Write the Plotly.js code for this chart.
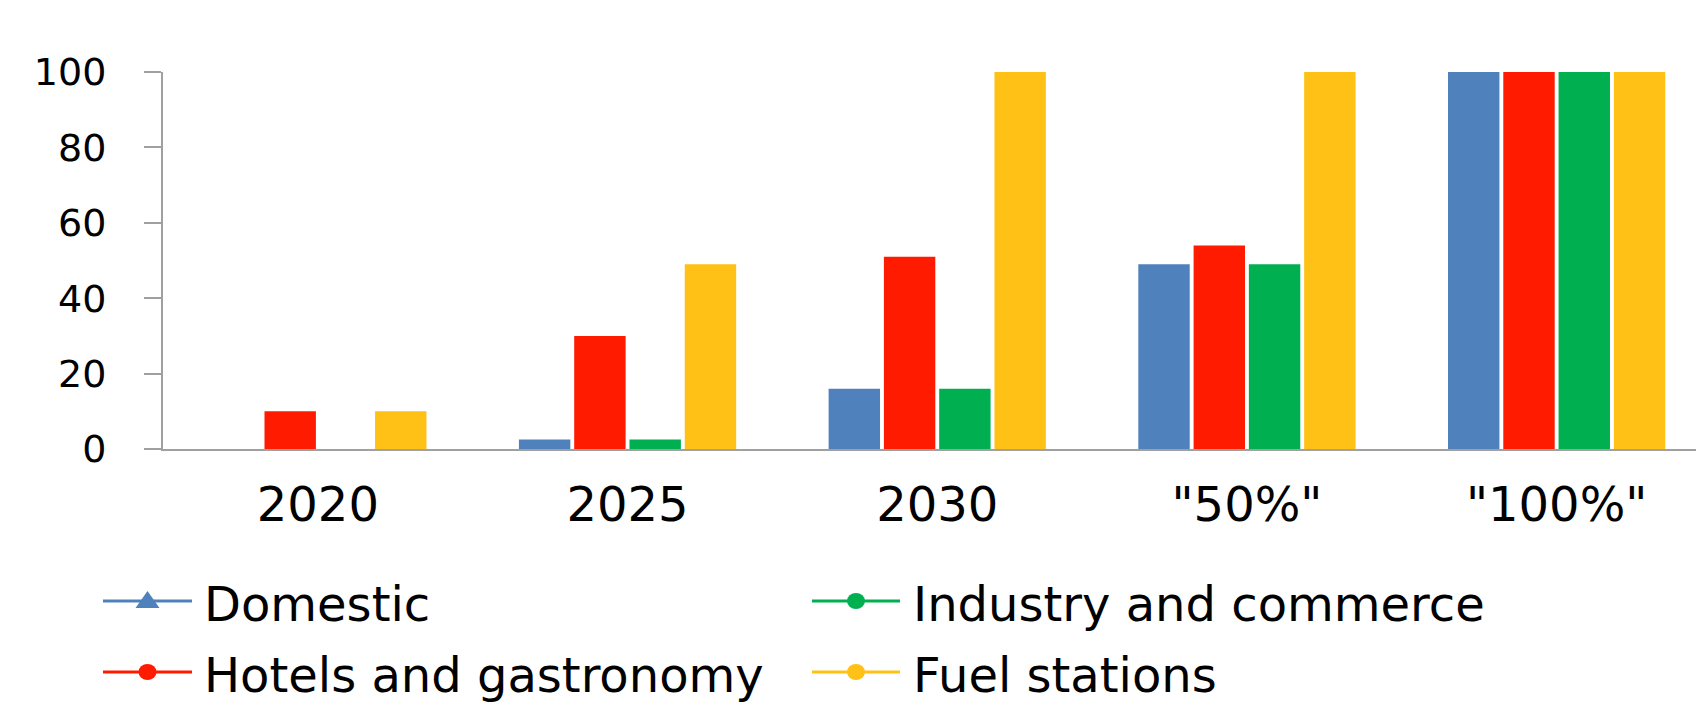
<!DOCTYPE html>
<html>
<head>
<meta charset="utf-8">
<script src="https://cdn.plot.ly/plotly-3.0.1.min.js"></script>
<style>
  html, body { margin: 0; padding: 0; background: #ffffff; }
  #chart { width: 1696px; height: 704px; }
</style>
</head>
<body>
<div id="chart"></div>
<script>
// Categories and series (share of deployment, %)
const categories = ['2020', '2025', '2030', '"50%"', '"100%"'];
const domestic   = [0, 2.5, 16, 49, 100];
const hotels     = [10, 30, 51, 54, 100];
const industry   = [0, 2.5, 16, 49, 100];
const fuel       = [10, 49, 100, 100, 100];
const seriesNames = ['Domestic', 'Hotels and gastronomy', 'Industry and commerce', 'Fuel stations'];
const yTicks = [0, 20, 40, 60, 80, 100];

// Styling
const seriesValues = [domestic, hotels, industry, fuel];
const seriesColors = ['#4F81BD', '#FF1B00', '#00B050', '#FFC116'];
const legendSymbol = ['triangle', 'circle', 'circle', 'circle'];
const axisGray = '#a0a0a0';
const FONT = 'DejaVu Sans';

// Page geometry (pixels)
const PW = 1696, PH = 704;
const M = { l: 163, r: 0, t: 72, b: 255 };
const plotW = PW - M.l - M.r;
const plotH = PH - M.t - M.b;
const px2paperX = x => (x - M.l) / plotW;
const px2paperY = y => (PH - M.b - y) / plotH;

const traces = seriesNames.map((name, i) => ({
  type: 'bar',
  name: name,
  x: categories,
  y: seriesValues[i],
  marker: { color: seriesColors[i], line: { width: 0 } },
  showlegend: false,
  hoverinfo: 'skip'
}));

// Legend laid out in two columns below the axis: line + marker + label
const legendCols = [{ lineX0: 103, lineX1: 192, textX: 202 }, { lineX0: 812, lineX1: 900, textX: 911 }];
const legendRows = [601, 672];
// [column, row] for Domestic, Hotels, Industry, Fuel
const legendSlots = [[0, 0], [0, 1], [1, 0], [1, 1]];
const shapes = [];
const annotations = [];
seriesNames.forEach((name, i) => {
  const [c, r] = legendSlots[i];
  const col = legendCols[c];
  const y = px2paperY(legendRows[r]);
  shapes.push({
    type: 'line', xref: 'paper', yref: 'paper',
    x0: px2paperX(col.lineX0), x1: px2paperX(col.lineX1), y0: y, y1: y,
    line: { color: seriesColors[i], width: 3 }
  });
  const cx = px2paperX((col.lineX0 + col.lineX1) / 2);
  if (legendSymbol[i] === 'triangle') {
    shapes.push({
      type: 'path', xref: 'paper', yref: 'paper',
      xsizemode: 'pixel', ysizemode: 'pixel', xanchor: cx, yanchor: y,
      path: 'M-12,-7 L12,-7 L0,10 Z',
      fillcolor: seriesColors[i], line: { width: 0 }
    });
  } else {
    shapes.push({
      type: 'circle', xref: 'paper', yref: 'paper',
      xsizemode: 'pixel', ysizemode: 'pixel', xanchor: cx, yanchor: y,
      x0: -9, x1: 9, y0: -8, y1: 8,
      fillcolor: seriesColors[i], line: { width: 0 }
    });
  }
  annotations.push({
    xref: 'paper', yref: 'paper', x: px2paperX(col.textX), y: px2paperY(legendRows[r] + 3),
    xanchor: 'left', yanchor: 'middle', showarrow: false,
    text: name, font: { family: FONT, size: 48, color: '#000000' }
  });
});

const layout = {
  width: PW, height: PH,
  margin: M,
  paper_bgcolor: '#ffffff', plot_bgcolor: '#ffffff',
  barmode: 'group',
  bargap: 0.286,
  bargroupgap: 0.07,
  showlegend: false,
  xaxis: {
    type: 'category',
    range: [-0.5, 4.45],
    showline: true, linecolor: axisGray, linewidth: 2,
    ticks: '', showgrid: false, zeroline: false,
    tickfont: { family: FONT, size: 48, color: '#000000' },
    ticklabelstandoff: 12
  },
  yaxis: {
    range: [0, 100],
    tickvals: yTicks,
    showline: true, linecolor: axisGray, linewidth: 2,
    ticks: 'outside', ticklen: 17, tickwidth: 2, tickcolor: axisGray,
    showgrid: false, zeroline: false,
    tickfont: { family: FONT, size: 38, color: '#000000' },
    ticklabelstandoff: 30
  },
  shapes: shapes,
  annotations: annotations,
  font: { family: FONT }
};

Plotly.newPlot('chart', traces, layout, { staticPlot: true, displayModeBar: false });
</script>
</body>
</html>
